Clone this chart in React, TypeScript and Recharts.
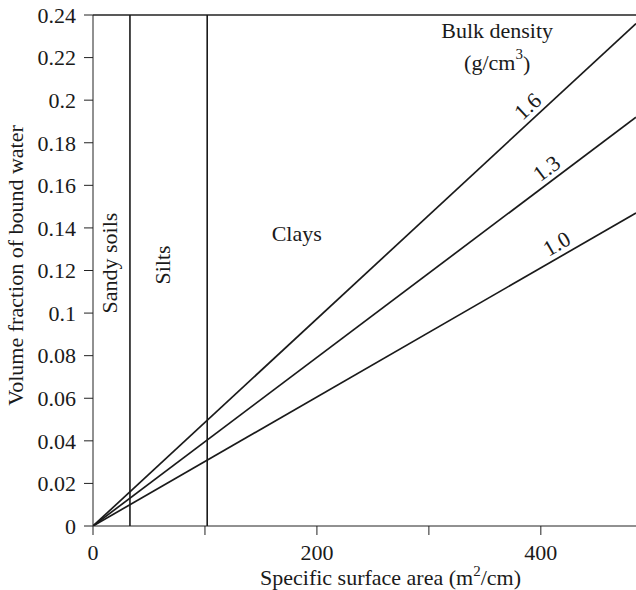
import React from 'react';
import {
    LineChart, Line, XAxis, YAxis, ReferenceLine, ReferenceDot, Label
} from 'recharts';

// surface area (m2/cm) at the two ends of each line
const areaPoints = [0, 485];
// volume fraction of bound water for each bulk density
const bound10 = [0, 0.147];
const bound13 = [0, 0.192];
const bound16 = [0, 0.236];
const densityLabels = ['1.0', '1.3', '1.6'];

const xTicks = [0, 100, 200, 300, 400];
const xTickLabels = ['0', '', '200', '', '400'];
const yTicks = [0, 0.02, 0.04, 0.06, 0.08, 0.1, 0.12, 0.14, 0.16, 0.18, 0.2, 0.22, 0.24];

// texture class boundaries
const classBounds = [33, 102];
const classNames = ['Sandy soils', 'Silts', 'Clays'];

const W = 636;
const H = 590;
const M = { top: 15, right: 0, bottom: 0, left: 0 };
const Y_W = 93;
const X_H = 64;
const X_MAX = 485;
const Y_MAX = 0.24;

const FONT = '"Liberation Serif", "Times New Roman", serif';
const FS = 22;
const INK = '#1a1a1a';

const data = areaPoints.map((x, i) => ({
    x,
    d10: bound10[i],
    d13: bound13[i],
    d16: bound16[i],
}));

const plotW = W - M.left - M.right - Y_W;
const plotH = H - M.top - M.bottom - X_H;
const pxPerX = plotW / X_MAX;
const pxPerY = plotH / Y_MAX;

// where the density labels sit along their line
const labelAt = [420, 412, 396];
const seriesEnds = [bound10[1], bound13[1], bound16[1]];

function slopeAngle(endVal: number) {
    const s = (endVal / X_MAX) * pxPerY / pxPerX;
    return -Math.atan(s) * 180 / Math.PI;
}

function textLabel(text: React.ReactNode, angle = 0, dy = 0) {
    return (props: any) => {
        const vb = props.viewBox || {};
        const cx = vb.x + (vb.width || 0) / 2;
        const cy = vb.y + (vb.height || 0) / 2;
        return (
            <text
                x={cx}
                y={cy}
                dy={dy}
                transform={angle ? `rotate(${angle}, ${cx}, ${cy})` : undefined}
                textAnchor="middle"
                dominantBaseline="central"
                fontFamily={FONT}
                fontSize={FS}
                fill={INK}
            >
                {text}
            </text>
        );
    };
}

const fmtY = (v: number) => String(Number(v.toFixed(2)));

export default function App() {
    return (
        <div style={{ position: 'absolute', left: 0, top: 0, width: W, height: H, background: '#fff' }}>
            <LineChart width={W} height={H} data={data} margin={M}>
                <XAxis
                    dataKey="x"
                    type="number"
                    domain={[0, X_MAX]}
                    ticks={xTicks}
                    tickFormatter={(v: number) => xTickLabels[xTicks.indexOf(v)] ?? ''}
                    height={X_H}
                    tickSize={9}
                    tickMargin={9}
                    stroke="#222"
                    tick={{ fill: INK, fontFamily: FONT, fontSize: FS }}
                    allowDataOverflow
                >
                    <Label
                        content={(props: any) => {
                            const vb = props.viewBox;
                            const cx = vb.x + vb.width / 2 + 26;
                            return (
                                <text x={cx} y={585} textAnchor="middle" fontFamily={FONT} fontSize={FS} fill={INK}>
                                    Specific surface area (m
                                    <tspan dy={-9} fontSize={15}>2</tspan>
                                    <tspan dy={9}>/cm)</tspan>
                                </text>
                            );
                        }}
                    />
                </XAxis>
                <YAxis
                    type="number"
                    domain={[0, Y_MAX]}
                    ticks={yTicks}
                    tickFormatter={fmtY}
                    width={Y_W}
                    tickSize={9}
                    tickMargin={8}
                    stroke="#222"
                    tick={{ fill: INK, fontFamily: FONT, fontSize: FS }}
                    allowDataOverflow
                >
                    <Label
                        content={(props: any) => {
                            const vb = props.viewBox;
                            const cy = vb.y + vb.height / 2 - 5;
                            return (
                                <text x={15} y={cy} transform={`rotate(-90, 15, ${cy})`} textAnchor="middle"
                                    dominantBaseline="central" fontFamily={FONT} fontSize={FS} fill={INK}>
                                    Volume fraction of bound water
                                </text>
                            );
                        }}
                    />
                </YAxis>

                <ReferenceLine y={Y_MAX} stroke="#222" strokeWidth={1.5} />
                {classBounds.map((b) => (
                    <ReferenceLine key={b} x={b} stroke={INK} strokeWidth={1.6} />
                ))}

                <Line dataKey="d10" stroke={INK} strokeWidth={1.7} dot={false} isAnimationActive={false} />
                <Line dataKey="d13" stroke={INK} strokeWidth={1.7} dot={false} isAnimationActive={false} />
                <Line dataKey="d16" stroke={INK} strokeWidth={1.7} dot={false} isAnimationActive={false} />

                {densityLabels.map((lab, i) => (
                    <ReferenceDot
                        key={lab}
                        x={labelAt[i]}
                        y={seriesEnds[i] * labelAt[i] / X_MAX}
                        r={1}
                        fill="none"
                        stroke="none"
                        label={{ content: textLabel(lab, slopeAngle(seriesEnds[i]), -13) }}
                    />
                ))}

                <ReferenceDot x={15} y={0.1235} r={1} fill="none" stroke="none"
                    label={{ content: textLabel(classNames[0], -90) }} />
                <ReferenceDot x={62} y={0.1226} r={1} fill="none" stroke="none"
                    label={{ content: textLabel(classNames[1], -90) }} />
                <ReferenceDot x={182} y={0.1376} r={1} fill="none" stroke="none"
                    label={{ content: textLabel(classNames[2]) }} />

                <ReferenceDot x={361} y={0.2325} r={1} fill="none" stroke="none"
                    label={{ content: textLabel('Bulk density') }} />
                <ReferenceDot x={361} y={0.2175} r={1} fill="none" stroke="none"
                    label={{
                        content: textLabel(
                            <>
                                (g/cm<tspan dy={-9} fontSize={15}>3</tspan><tspan dy={9}>)</tspan>
                            </>
                        ),
                    }} />
            </LineChart>
        </div>
    );
}
